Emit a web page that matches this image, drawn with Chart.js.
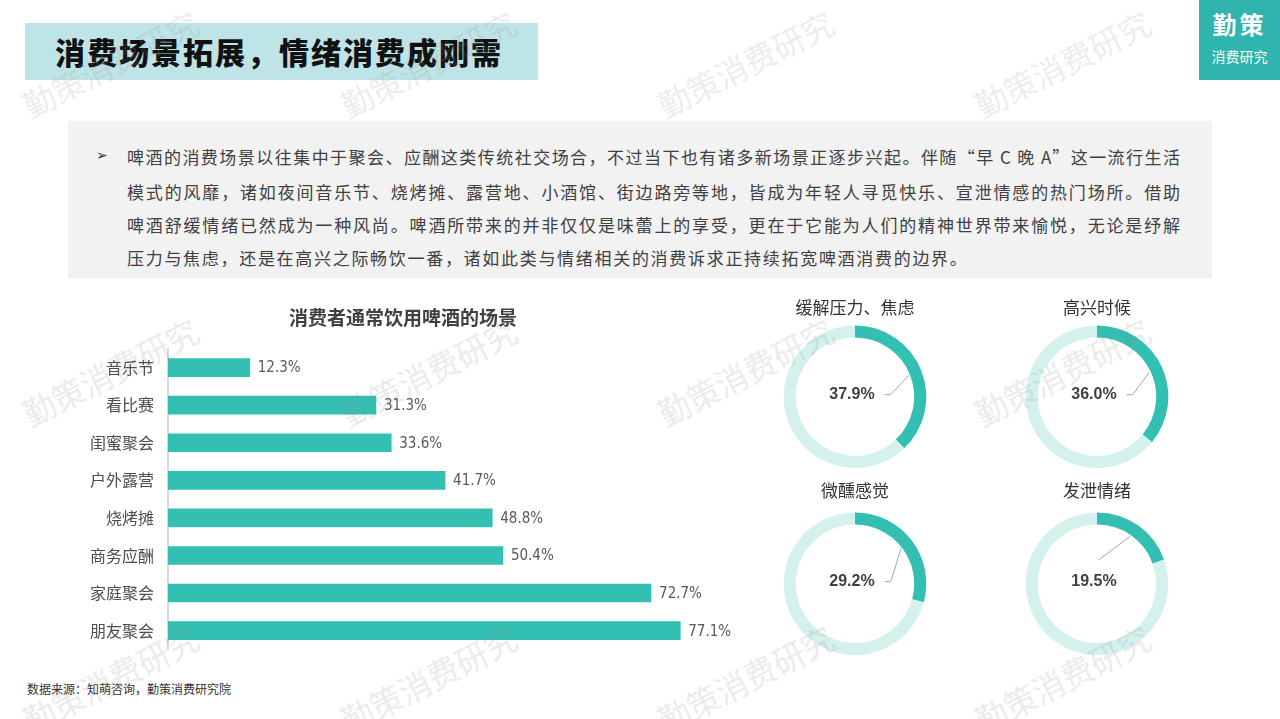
<!DOCTYPE html>
<html>
<head>
<meta charset="utf-8">
<script src="https://cdn.jsdelivr.net/npm/chart.js@4.4.0/dist/chart.umd.min.js"></script>
<style>
body { margin:0; width:1280px; height:719px; position:relative; overflow:hidden; background:#fff; font-family:"Noto Sans CJK SC", sans-serif; }
.banner { position:absolute; left:25px; top:23px; width:513px; height:57px; background:#bfe4e7; }
.banner span { position:absolute; left:30px; top:0; line-height:57px; font-size:30px; font-weight:900; color:#111; letter-spacing:2px; }
.logo { position:absolute; left:1199px; top:0; width:81px; height:80px; background:#2fb5ad; color:#fff; text-align:center; }
.logo .big { position:absolute; left:0; width:81px; top:9px; font-size:24px; font-weight:bold; line-height:30px; letter-spacing:3px; }
.logo .small { position:absolute; left:0; width:81px; top:47px; font-size:14px; line-height:18px; }
.textbox { position:absolute; left:68px; top:121px; width:1144px; height:157px; background:#f2f2f2; }
.bullet { position:absolute; left:96px; top:147px; font-family:"DejaVu Sans", sans-serif; font-size:14px; color:#333; }
.line { position:absolute; left:127px; width:1054px; font-size:17px; letter-spacing:1px; color:#404040; line-height:24px; white-space:nowrap; }
.line.just { text-align:justify; text-align-last:justify; }
.source { position:absolute; left:27px; top:680px; font-size:12px; color:#333; }
canvas { position:absolute; }
.wm { position:absolute; font-size:32px; color:rgba(140,140,140,0.18); transform:rotate(-27deg); white-space:nowrap; pointer-events:none; }
</style>
</head>
<body>
<div class="banner"><span>消费场景拓展，情绪消费成刚需</span></div>
<div class="logo"><div class="big">勤策</div><div class="small">消费研究</div></div>

<div class="textbox"></div>
<div class="bullet">➢</div>
<div class="line just" style="top:145px">啤酒的消费场景以往集中于聚会、应酬这类传统社交场合，不过当下也有诸多新场景正逐步兴起。伴随“早 C 晚 A”这一流行生活</div>
<div class="line just" style="top:180px">模式的风靡，诸如夜间音乐节、烧烤摊、露营地、小酒馆、街边路旁等地，皆成为年轻人寻觅快乐、宣泄情感的热门场所。借助</div>
<div class="line just" style="top:213px">啤酒舒缓情绪已然成为一种风尚。啤酒所带来的并非仅仅是味蕾上的享受，更在于它能为人们的精神世界带来愉悦，无论是纾解</div>
<div class="line" style="top:246px;letter-spacing:1.7px">压力与焦虑，还是在高兴之际畅饮一番，诸如此类与情绪相关的消费诉求正持续拓宽啤酒消费的边界。</div>

<canvas id="bars" width="766" height="383" style="left:40px;top:290px"></canvas>
<canvas id="ring0" width="160" height="178" style="left:775px;top:290px"></canvas>
<canvas id="ring1" width="160" height="178" style="left:1017px;top:290px"></canvas>
<canvas id="ring2" width="160" height="182" style="left:775px;top:473px"></canvas>
<canvas id="ring3" width="160" height="182" style="left:1017px;top:473px"></canvas>

<div class="source">数据来源：知萌咨询，勤策消费研究院</div>

<div id="marks"></div>

<script>
// data
let scenes = ["音乐节", "看比赛", "闺蜜聚会", "户外露营", "烧烤摊", "商务应酬", "家庭聚会", "朋友聚会"]
let sceneValues = [12.3, 31.3, 33.6, 41.7, 48.8, 50.4, 72.7, 77.1]
let moodNames = ["缓解压力、焦虑", "高兴时候", "微醺感觉", "发泄情绪"]
let moodValues = [37.9, 36.0, 29.2, 19.5]

let teal = "#33bfb1"
let lightTeal = "#d4f1ee"
let cjk = '"Noto Sans CJK SC", sans-serif'

// watermark
let wmX = [110, 428, 745, 1062]
let wmY = [62, 370, 677]
let marks = document.getElementById("marks")
for (let y of wmY) {
        for (let x of wmX) {
                let d = document.createElement("div")
                d.className = "wm"
                d.textContent = "勤策消费研究"
                d.style.left = (x - 96) + "px"
                d.style.top = (y - 22) + "px"
                marks.appendChild(d)
        }
}

const barLabels = {
        id: "barLabels",
        afterDatasetsDraw(chart) {
                let ctx = chart.ctx
                let meta = chart.getDatasetMeta(0)
                ctx.save()
                ctx.font = '15px "Liberation Sans Narrow", "DejaVu Sans Condensed", sans-serif'
                ctx.fillStyle = "#595959"
                ctx.textBaseline = "middle"
                meta.data.forEach(function (bar, i) {
                        ctx.fillText(sceneValues[i].toFixed(1) + "%", bar.x + 8, bar.y + 1)
                })
                ctx.restore()
        }
}

new Chart(document.getElementById("bars"), {
        type: "bar",
        data: {
                labels: scenes,
                datasets: [{ data: sceneValues, backgroundColor: teal, barThickness: 18 }]
        },
        options: {
                indexAxis: "y",
                responsive: false,
                animation: false,
                layout: { padding: { left: 0, right: 40, bottom: 2 } },
                plugins: {
                        legend: { display: false },
                        tooltip: { enabled: false },
                        title: {
                                display: true,
                                text: "消费者通常饮用啤酒的场景",
                                color: "#404040",
                                font: { size: 19, weight: "bold", family: cjk },
                                padding: { top: 16, bottom: 20 }
                        }
                },
                scales: {
                        x: { display: false, min: 0, max: 90 },
                        y: {
                                grid: { display: false, drawTicks: false },
                                border: { display: true, color: "#d9d9d9", width: 2 },
                                ticks: { color: "#4d4d4d", padding: 14, font: { size: 16, family: cjk } },
                                afterFit: function (scale) { scale.width = 128 }
                        }
                }
        },
        plugins: [barLabels]
})

const ringLabel = {
        id: "ringLabel",
        afterDatasetsDraw(chart) {
                let ctx = chart.ctx
                let arc = chart.getDatasetMeta(0).data[0]
                let v = chart.data.datasets[0].data[0]
                let cx = arc.x, cy = arc.y
                let text = v.toFixed(1) + "%"
                ctx.save()
                ctx.font = 'bold 16px "Liberation Sans", Arial, sans-serif'
                ctx.fillStyle = "#404040"
                ctx.textAlign = "center"
                ctx.textBaseline = "middle"
                let tx = cx - 3, ty = cy - 2
                ctx.fillText(text, tx, ty)
                let mid = (arc.startAngle + arc.endAngle) / 2
                let r = arc.innerRadius - 1
                let px = cx + Math.cos(mid) * r, py = cy + Math.sin(mid) * r
                ctx.strokeStyle = "#a6a6a6"
                ctx.lineWidth = 1
                ctx.beginPath()
                if (v < 25) {
                        ctx.moveTo(cx + 2, cy - 24)
                } else {
                        let w = ctx.measureText(text).width
                        ctx.moveTo(tx + w / 2 + 10, ty)
                        ctx.lineTo(tx + w / 2 + 16, ty)
                }
                ctx.lineTo(px, py)
                ctx.stroke()
                ctx.restore()
        }
}

for (let i = 0; i < moodNames.length; i++) {
        new Chart(document.getElementById("ring" + i), {
                type: "doughnut",
                data: {
                        labels: [moodNames[i], ""],
                        datasets: [{
                                data: [moodValues[i], 100 - moodValues[i]],
                                backgroundColor: [teal, lightTeal],
                                borderWidth: 0
                        }]
                },
                options: {
                        responsive: false,
                        animation: false,
                        cutout: "83%",
                        plugins: {
                                legend: { display: false },
                                tooltip: { enabled: false },
                                title: {
                                        display: true,
                                        text: moodNames[i],
                                        color: "#333",
                                        font: { size: 17, weight: "normal", family: cjk },
                                        padding: { top: 7, bottom: i < 2 ? 8 : 12 }
                                }
                        }
                },
                plugins: [ringLabel]
        })
}
</script>
</body>
</html>
